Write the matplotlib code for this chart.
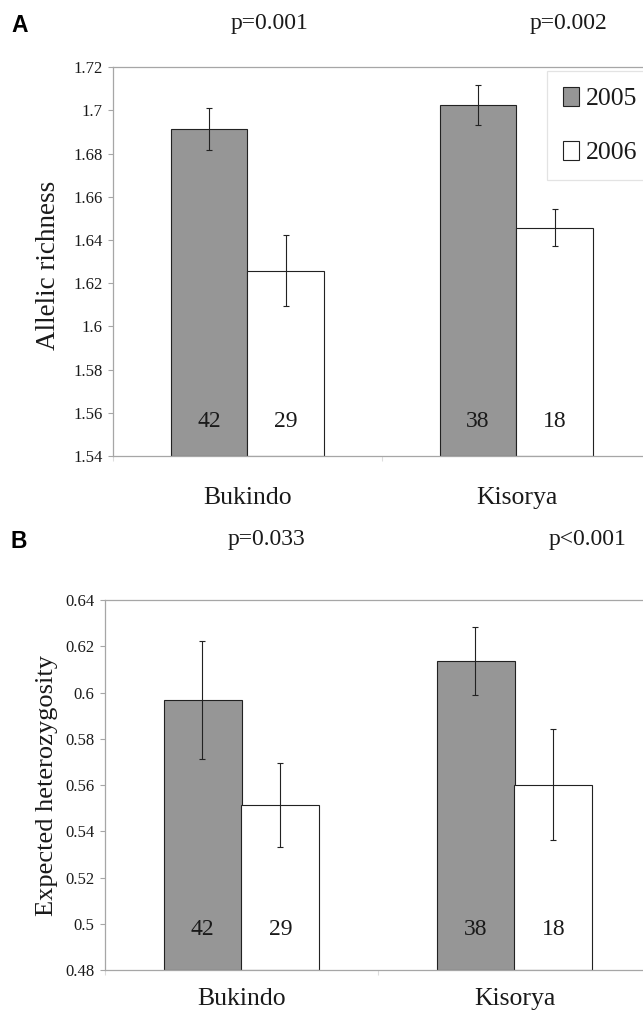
import numpy as np
import matplotlib
matplotlib.use("Agg")
import matplotlib.pyplot as plt
from matplotlib.patches import Patch

sites = ['Bukindo', 'Kisorya']
years = ['2005', '2006']

# panel A: allelic richness
rich_2005 = [1.6915, 1.7025]
rich_2005_err = [0.0097, 0.0093]
rich_2006 = [1.6258, 1.6457]
rich_2006_err = [0.0164, 0.0086]

# panel B: expected heterozygosity
het_2005 = [0.5967, 0.6137]
het_2005_err = [0.0256, 0.0146]
het_2006 = [0.5513, 0.5601]
het_2006_err = [0.0180, 0.0240]

# sample sizes shown inside the bars
n_2005 = [42, 38]
n_2006 = [29, 18]

p_rich = ['p=0.001', 'p=0.002']
p_het = ['p=0.033', 'p<0.001']

W, H = 643, 1021
plt.rcParams['font.family'] = ['Liberation Serif', 'DejaVu Serif']
fig = plt.figure(figsize=(W / 100, H / 100), dpi=100)

gray = '#969696'
spine_col = '#a6a6a6'
txt = '#1a1a1a'
bw = 1 / 3.5


def panel(rect, v05, e05, v06, e06, ylim, label_y, xpad):
    ax = fig.add_axes(rect)
    x = np.arange(len(sites))
    ax.bar(x - bw / 2, np.array(v05) - ylim[0], bw, bottom=ylim[0], color=gray,
           edgecolor='#222222', linewidth=0.8, zorder=2)
    ax.bar(x + bw / 2, np.array(v06) - ylim[0], bw, bottom=ylim[0], color='white',
           edgecolor='#222222', linewidth=0.8, zorder=2)
    ax.errorbar(x - bw / 2, v05, yerr=e05, fmt='none', ecolor='#222222',
                elinewidth=0.8, capsize=2.2, capthick=0.8, zorder=3)
    ax.errorbar(x + bw / 2, v06, yerr=e06, fmt='none', ecolor='#222222',
                elinewidth=0.8, capsize=2.2, capthick=0.8, zorder=3)
    for i in range(len(sites)):
        ax.text(x[i] - bw / 2, label_y, str(n_2005[i]), ha='center', va='center',
                fontsize=17, color=txt, zorder=4)
        ax.text(x[i] + bw / 2, label_y, str(n_2006[i]), ha='center', va='center',
                fontsize=17, color=txt, zorder=4)
    ax.set_xlim(-0.5, 1.5)
    ax.set_ylim(*ylim)
    ticks = np.round(np.arange(ylim[0], ylim[1] + 1e-9, 0.02), 2)
    ax.set_yticks(ticks)
    ax.set_yticklabels(['{:g}'.format(t) for t in ticks])
    ax.tick_params(axis='y', length=3.6, width=0.8, color=spine_col, pad=4,
                   labelsize=12, labelcolor=txt)
    ax.set_xticks(x)
    ax.set_xticklabels(sites)
    ax.tick_params(axis='x', which='major', length=0, pad=xpad,
                   labelsize=18.5, labelcolor=txt)
    ax.set_xticks([-0.5, 0.5, 1.5], minor=True)
    ax.tick_params(axis='x', which='minor', length=3.6, width=0.8, color='#dddddd')
    for s in ax.spines.values():
        s.set_color(spine_col)
        s.set_linewidth(0.9)
    return ax


axA = panel([113 / W, 1 - 456 / H, 538 / W, 388.7 / H],
            rich_2005, rich_2005_err, rich_2006, rich_2006_err,
            (1.54, 1.72), 1.556, 22)
axB = panel([105 / W, 1 - 970 / H, 546 / W, 370 / H],
            het_2005, het_2005_err, het_2006, het_2006_err,
            (0.48, 0.64), 0.4973, 13)

handles = [Patch(facecolor=gray, edgecolor='#222222', linewidth=0.8, label=years[0]),
           Patch(facecolor='white', edgecolor='#222222', linewidth=0.8, label=years[1])]
leg = axA.legend(handles=handles, loc='upper left', bbox_to_anchor=(0.807, 0.991),
                 borderaxespad=0, fontsize=18.5, frameon=True, fancybox=False,
                 handlelength=0.63, handleheight=0.76, handletextpad=0.27,
                 labelspacing=1.2, borderpad=0.62)
leg.get_frame().set_edgecolor('#dddddd')
leg.get_frame().set_linewidth(0.9)
for t in leg.get_texts():
    t.set_color(txt)

# panel letters, p values and axis titles
fig.text(11 / W, 1 - 25 / H, 'A', fontsize=16.5, fontweight='bold',
         family=['Liberation Sans', 'DejaVu Sans'], va='center', ha='left')
fig.text(10 / W, 1 - 541 / H, 'B', fontsize=16.5, fontweight='bold',
         family=['Liberation Sans', 'DejaVu Sans'], va='center', ha='left')
for xp, s in zip([270, 568], p_rich):
    fig.text(xp / W, 1 - 23 / H, s, fontsize=17, ha='center', va='center', color=txt)
for xp, s in zip([266, 588], p_het):
    fig.text(xp / W, 1 - 540 / H, s, fontsize=17, ha='center', va='center', color=txt)
fig.text(49 / W, 1 - 265 / H, 'Allelic richness', rotation=90, fontsize=19.5,
         ha='center', va='center', color=txt)
fig.text(47 / W, 1 - 785 / H, 'Expected heterozygosity', rotation=90, fontsize=19,
         ha='center', va='center', color=txt)

fig.savefig('out.png', dpi=100)
plt.close()
